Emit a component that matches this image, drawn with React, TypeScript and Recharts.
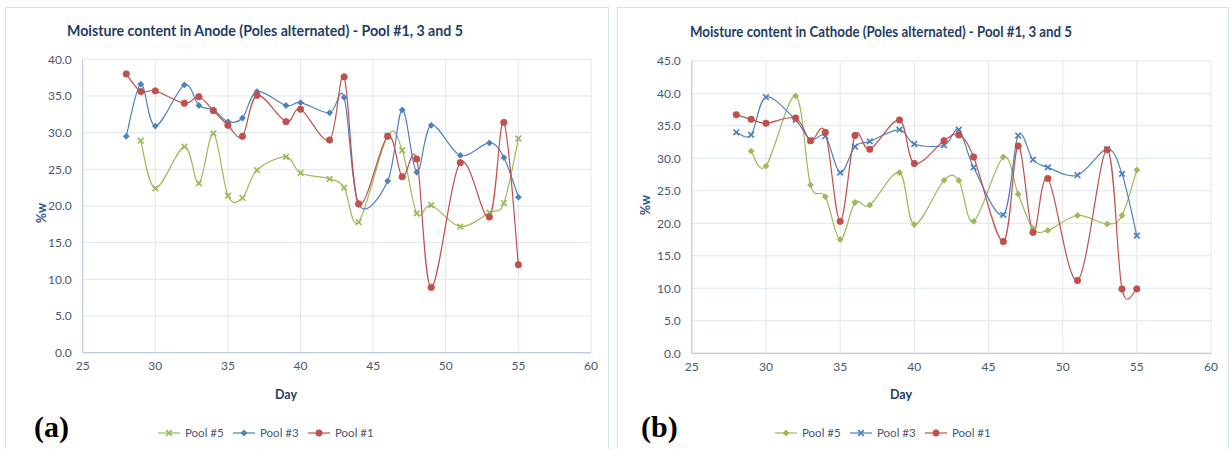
import React from 'react';
import { LineChart, Line, XAxis, YAxis, CartesianGrid } from 'recharts';

// sampling days (Pool #5 has no reading on day 28)
const days = [28, 29, 30, 32, 33, 34, 35, 36, 37, 39, 40, 42, 43, 44, 46, 47, 48, 49, 51, 53, 54, 55];
const pool5Days = [29, 30, 32, 33, 34, 35, 36, 37, 39, 40, 42, 43, 44, 46, 47, 48, 49, 51, 53, 54, 55];

// (a) anode
const anodePool5 = [28.9, 22.4, 28.1, 23.1, 29.9, 21.4, 21.1, 24.9, 26.7, 24.5, 23.7, 22.5, 17.8, 29.6, 27.6, 19.0, 20.1, 17.2, 19.1, 20.4, 29.2];
const anodePool3 = [29.5, 36.6, 30.9, 36.5, 33.7, 33.1, 31.5, 32.0, 35.6, 33.7, 34.1, 32.7, 34.8, 20.2, 23.4, 33.1, 24.6, 31.0, 26.9, 28.6, 26.6, 21.2];
const anodePool1 = [38.0, 35.6, 35.7, 34.0, 34.9, 33.0, 31.0, 29.5, 35.1, 31.5, 33.2, 29.0, 37.6, 20.3, 29.5, 24.0, 26.4, 8.9, 25.9, 18.5, 31.4, 12.0];

// (b) cathode
const cathodePool5 = [31.1, 28.8, 39.6, 25.9, 24.1, 17.5, 23.2, 22.8, 27.8, 19.8, 26.6, 26.6, 20.3, 30.2, 24.5, 19.2, 18.9, 21.2, 19.9, 21.2, 28.2];
const cathodePool3 = [34.0, 33.6, 39.4, 35.9, 32.8, 33.4, 27.8, 31.8, 32.6, 34.4, 32.2, 32.0, 34.4, 28.6, 21.3, 33.5, 29.8, 28.6, 27.4, 31.4, 27.6, 18.1];
const cathodePool1 = [36.7, 36.0, 35.4, 36.2, 32.7, 34.0, 20.3, 33.5, 31.4, 35.9, 29.2, 32.7, 33.6, 30.2, 17.2, 31.9, 18.6, 26.9, 11.2, 31.3, 9.9, 9.9];

const xTicks = [25, 30, 35, 40, 45, 50, 55, 60];
const anodeTicks = [0, 5, 10, 15, 20, 25, 30, 35, 40];
const cathodeTicks = [0, 5, 10, 15, 20, 25, 30, 35, 40, 45];

const seriesNames = ['Pool #5', 'Pool #3', 'Pool #1'];
const seriesColors = ['#9bbb59', '#4f81bd', '#c0504d'];

const FONT = "Lato, 'Open Sans', sans-serif";
const TEXT = '#4a5772';
const DARK = '#1f3d66';

const toPoints = (xs: number[], vs: number[]) => xs.map((day, i) => ({ day, value: vs[i] }));

// smoothed line like Excel's (Catmull-Rom through every point)
const excelSmooth = (context: any) => {
  let pts: number[][] = [];
  return {
    areaStart() {},
    areaEnd() {},
    lineStart() {
      pts = [];
    },
    point(x: number, y: number) {
      pts.push([+x, +y]);
    },
    lineEnd() {
      const n = pts.length;
      if (!n) return;
      context.moveTo(pts[0][0], pts[0][1]);
      for (let i = 0; i < n - 1; i++) {
        const p0 = pts[Math.max(i - 1, 0)];
        const p1 = pts[i];
        const p2 = pts[i + 1];
        const p3 = pts[Math.min(i + 2, n - 1)];
        context.bezierCurveTo(
          p1[0] + (p2[0] - p0[0]) / 6,
          p1[1] + (p2[1] - p0[1]) / 6,
          p2[0] - (p3[0] - p1[0]) / 6,
          p2[1] - (p3[1] - p1[1]) / 6,
          p2[0],
          p2[1]
        );
      }
    },
  };
};

type Kind = 'circle' | 'diamond' | 'x';

function Marker({ kind, x, y, color }: { kind: Kind; x: number; y: number; color: string }) {
  if (kind === 'circle') return <circle cx={x} cy={y} r={3.2} fill={color} stroke={color} strokeWidth={0.8} />;
  if (kind === 'diamond') {
    const s = 3.4;
    return <polygon points={`${x},${y - s} ${x + s},${y} ${x},${y + s} ${x - s},${y}`} fill={color} />;
  }
  const s = 2.8;
  return (
    <g stroke={color} strokeWidth={1.7}>
      <line x1={x - s} y1={y - s} x2={x + s} y2={y + s} />
      <line x1={x - s} y1={y + s} x2={x + s} y2={y - s} />
    </g>
  );
}

const dotFor = (kind: Kind, color: string) => (props: any) => {
  const { cx, cy, index } = props;
  if (cx == null || cy == null) return <g key={`e-${index}`} />;
  return <Marker key={`m-${index}`} kind={kind} x={cx} y={cy} color={color} />;
};

interface PanelProps {
  left: number;
  width: number;
  title: string;
  titleCenter: number;
  titleBase: number;
  titleWidth: number;
  yMax: number;
  yTicks: number[];
  margin: { top: number; right: number; bottom: number; left: number };
  series: { xs: number[]; vs: number[]; kind: Kind }[];
  tag: string;
  tagX: number;
  legendX: number;
  dayX: number;
  wX: number;
  wY: number;
  borderLeft: number;
  borderWidth: number;
}

function Panel(p: PanelProps) {
  return (
    <div style={{ position: 'absolute', left: p.left, top: 0, width: p.width, height: 449 }}>
      <div
        style={{
          position: 'absolute',
          left: p.borderLeft,
          top: 7,
          width: p.borderWidth,
          height: 460,
          border: '1px solid #d8e0ec',
          boxSizing: 'border-box',
        }}
      />
      <svg width={p.width} height={50} style={{ position: 'absolute', left: 0, top: 0 }}>
        <text
          x={p.titleCenter}
          y={p.titleBase}
          textAnchor="middle"
          textLength={p.titleWidth}
          lengthAdjust="spacingAndGlyphs"
          fill={DARK}
          style={{ font: `bold 15px ${FONT}` }}
        >
          {p.title}
        </text>
      </svg>
      <LineChart width={p.width} height={449} margin={p.margin} style={{ position: 'absolute', left: 0, top: 0 }}>
        <CartesianGrid stroke="#dfe6f1" strokeWidth={1} />
        <XAxis
          dataKey="day"
          type="number"
          domain={[25, 60]}
          ticks={xTicks}
          interval={0}
          height={30}
          tickLine={false}
          tickSize={0}
          tickMargin={9}
          axisLine={{ stroke: '#b5c5e0' }}
          tick={{ fill: TEXT, fontSize: 12, fontFamily: FONT }}
        />
        <YAxis
          type="number"
          domain={[0, p.yMax]}
          ticks={p.yTicks}
          interval={0}
          width={40}
          tickLine={false}
          tickSize={0}
          tickMargin={11}
          axisLine={{ stroke: '#b5c5e0' }}
          tickFormatter={(v: number) => v.toFixed(1)}
          tick={{ fill: TEXT, fontSize: 12, fontFamily: FONT }}
        />
        {p.series.map((s, i) => (
          <Line
            key={seriesNames[i]}
            name={seriesNames[i]}
            data={toPoints(s.xs, s.vs)}
            dataKey="value"
            type={excelSmooth as any}
            stroke={seriesColors[i]}
            strokeWidth={1.2}
            dot={dotFor(s.kind, seriesColors[i])}
            activeDot={false}
            isAnimationActive={false}
          />
        ))}
      </LineChart>
      <div
        style={{
          position: 'absolute',
          left: p.wX,
          top: p.wY,
          transform: 'translate(-50%, -50%) rotate(-90deg)',
          font: `bold 12.5px ${FONT}`,
          color: '#2a5290',
        }}
      >
        %w
      </div>
      <div
        style={{
          position: 'absolute',
          left: p.dayX - 40,
          top: 387,
          width: 80,
          textAlign: 'center',
          font: `bold 12.5px ${FONT}`,
          lineHeight: '16px',
          color: DARK,
        }}
      >
        Day
      </div>
      <div
        style={{
          position: 'absolute',
          left: p.tagX,
          top: 408,
          font: "bold 30px 'Liberation Serif', 'DejaVu Serif', serif",
          lineHeight: '38px',
          color: '#000',
        }}
      >
        {p.tag}
      </div>
      <div style={{ position: 'absolute', left: p.legendX, top: 425, display: 'flex', alignItems: 'center' }}>
        {p.series.map((s, i) => (
          <div key={seriesNames[i]} style={{ display: 'flex', alignItems: 'center', width: 75 }}>
            <svg width={22} height={10} style={{ display: 'block' }}>
              <line x1={0} y1={5} x2={22} y2={5} stroke={seriesColors[i]} strokeWidth={1.2} />
              <Marker kind={s.kind} x={11} y={5} color={seriesColors[i]} />
            </svg>
            <span style={{ marginLeft: 5, font: `11.5px ${FONT}`, color: TEXT, lineHeight: '16px' }}>{seriesNames[i]}</span>
          </div>
        ))}
      </div>
    </div>
  );
}

export default function App() {
  return (
    <div style={{ position: 'absolute', left: 0, top: 0, width: 1231, height: 449, background: '#fff', overflow: 'hidden' }}>
      <Panel
        left={0}
        width={615}
        title="Moisture content in Anode (Poles alternated) - Pool #1, 3 and 5"
        titleCenter={265}
        titleBase={36}
        titleWidth={396}
        yMax={40}
        yTicks={anodeTicks}
        margin={{ top: 59.3, right: 24, bottom: 66.3, left: 42.7 }}
        series={[
          { xs: pool5Days, vs: anodePool5, kind: 'x' },
          { xs: days, vs: anodePool3, kind: 'diamond' },
          { xs: days, vs: anodePool1, kind: 'circle' },
        ]}
        tag="(a)"
        tagX={34}
        legendX={158}
        dayX={286}
        wX={41}
        wY={213}
        borderLeft={5}
        borderWidth={604}
      />
      <Panel
        left={615}
        width={616}
        title="Moisture content in Cathode (Poles alternated) - Pool #1, 3 and 5"
        titleCenter={266}
        titleBase={37}
        titleWidth={382}
        yMax={45}
        yTicks={cathodeTicks}
        margin={{ top: 60.8, right: 20, bottom: 65.7, left: 36.8 }}
        series={[
          { xs: pool5Days, vs: cathodePool5, kind: 'diamond' },
          { xs: days, vs: cathodePool3, kind: 'x' },
          { xs: days, vs: cathodePool1, kind: 'circle' },
        ]}
        tag="(b)"
        tagX={26}
        legendX={160}
        dayX={286}
        wX={30}
        wY={205}
        borderLeft={2}
        borderWidth={612}
      />
    </div>
  );
}
